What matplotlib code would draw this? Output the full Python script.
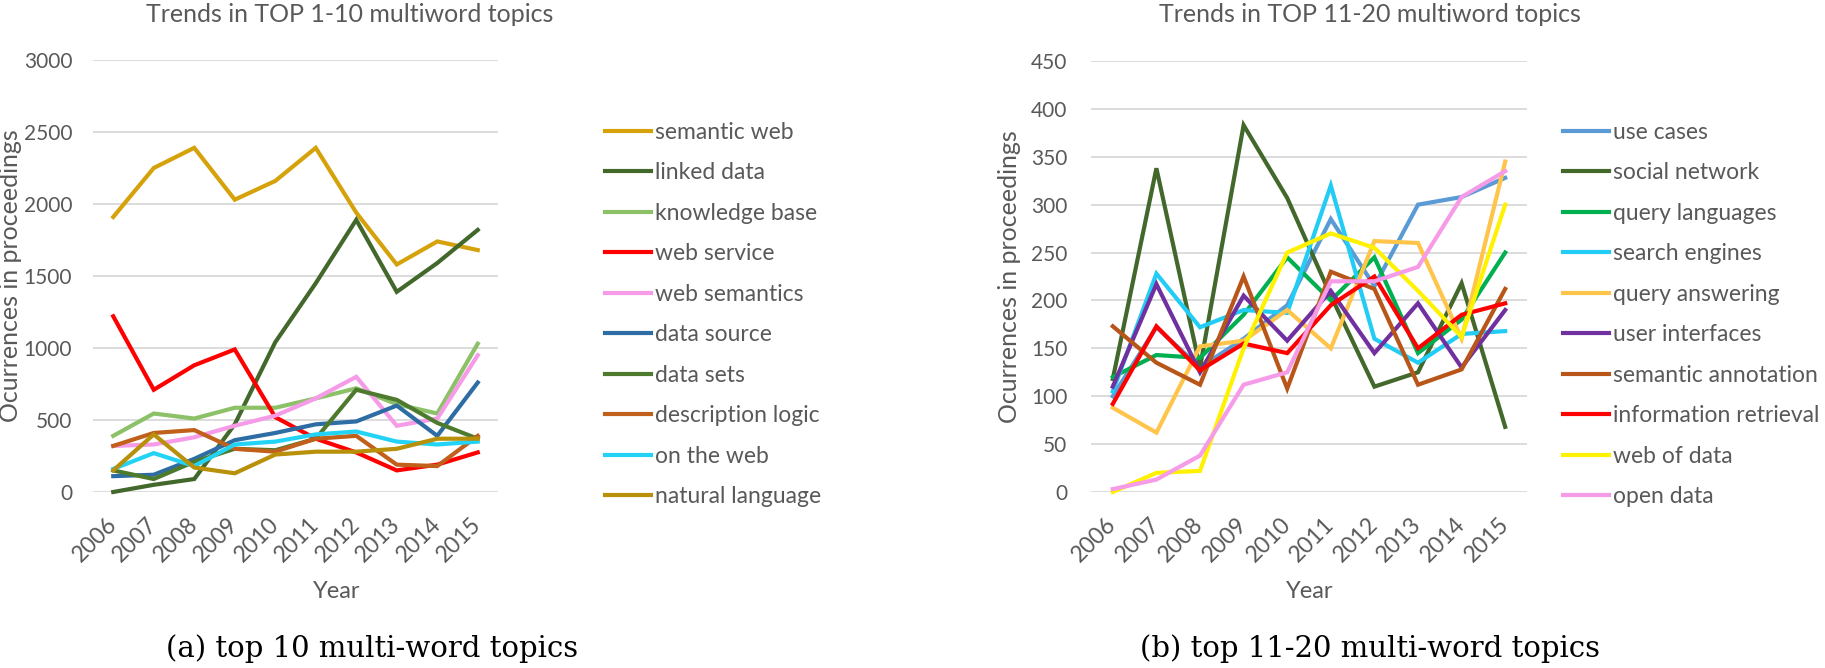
import matplotlib
matplotlib.use("Agg")
from matplotlib import pyplot as plt

years = [2006, 2007, 2008, 2009, 2010, 2011, 2012, 2013, 2014, 2015]

# TOP 1-10 multiword topics
semanticWeb = [1910, 2250, 2390, 2030, 2160, 2390, 1940, 1580, 1740, 1680]
linkedData = [0, 50, 90, 470, 1040, 1450, 1890, 1390, 1590, 1820]
knowledgeBase = [390, 545, 510, 585, 585, 650, 720, 610, 545, 1030]
webService = [1220, 710, 880, 990, 520, 370, 275, 150, 190, 275]
webSemantics = [320, 330, 380, 460, 530, 650, 800, 460, 510, 950]
dataSource = [110, 120, 230, 360, 410, 470, 490, 600, 390, 760]
dataSets = [150, 90, 210, 300, 290, 370, 710, 640, 480, 370]
descriptionLogic = [320, 410, 430, 300, 280, 370, 390, 190, 180, 390]
onTheWeb = [160, 270, 180, 330, 350, 400, 420, 350, 330, 350]
naturalLanguage = [150, 400, 170, 130, 260, 280, 280, 300, 370, 370]

top10Labels = ["semantic web", "linked data", "knowledge base", "web service",
               "web semantics", "data source", "data sets", "description logic",
               "on the web", "natural language"]
top10Series = [semanticWeb, linkedData, knowledgeBase, webService, webSemantics,
               dataSource, dataSets, descriptionLogic, onTheWeb, naturalLanguage]

# TOP 11-20 multiword topics
useCases = [100, 172, 130, 160, 195, 285, 215, 300, 308, 328]
socialNetwork = [118, 338, 130, 383, 307, 205, 110, 125, 218, 68]
queryLanguages = [120, 143, 140, 185, 245, 200, 245, 145, 180, 250]
searchEngines = [105, 228, 172, 190, 187, 320, 160, 135, 165, 168]
queryAnswering = [88, 62, 152, 158, 190, 150, 262, 260, 160, 345]
userInterfaces = [110, 217, 125, 205, 158, 210, 145, 197, 130, 190]
semanticAnnotation = [173, 135, 112, 225, 108, 230, 212, 112, 128, 212]
informationRetrieval = [92, 173, 127, 155, 145, 195, 225, 150, 185, 197]
webOfData = [0, 20, 22, 150, 250, 270, 255, 210, 162, 300]
openData = [3, 13, 38, 112, 125, 220, 220, 235, 308, 335]

top20Labels = ["use cases", "social network", "query languages", "search engines",
               "query answering", "user interfaces", "semantic annotation",
               "information retrieval", "web of data", "open data"]
top20Series = [useCases, socialNetwork, queryLanguages, searchEngines, queryAnswering,
               userInterfaces, semanticAnnotation, informationRetrieval, webOfData, openData]

top10Colors = ["#D6A20C", "#43682B", "#8CC168", "#FF0000", "#F59BE8",
               "#2E6DA4", "#4E7A2E", "#C0601A", "#22D3F5", "#B8900A"]
top20Colors = ["#5B9BD5", "#43682B", "#00B050", "#22CCF5", "#FFC54A",
               "#7030A0", "#B8561A", "#FF0000", "#FFF200", "#F59BE8"]

W, H = 1825, 668
GRAY = "#595959"
FONT = "Lato"

fig = plt.figure(figsize=(W / 100, H / 100), dpi=100)


def fx(x):
    return x / W


def fy(y):
    return 1 - y / H


def drawPanel(rect, series, labels, colors, ymax, ystep, ypad, title, titleX,
              ylabelX, yearX, caption, captionX, legendX):
    left, top, right, bottom = rect
    ax = fig.add_axes([fx(left), fy(bottom), fx(right - left), (bottom - top) / H])
    for values, label, color in zip(series, labels, colors):
        ax.plot(years, values, color=color, lw=3.0, label=label, clip_on=False,
                solid_joinstyle="miter")
    ax.set_xlim(2005.5, 2015.5)
    ax.set_ylim(0, ymax)
    ax.set_yticks(range(0, ymax + 1, ystep))
    ax.set_xticks(years)
    ax.set_xticklabels([str(y) for y in years], rotation=45, ha="right",
                       va="center", rotation_mode="anchor")
    ax.yaxis.grid(True, color="#D9D9D9", lw=1.3)
    ax.set_axisbelow(True)
    for s in ax.spines.values():
        s.set_visible(False)
    ax.tick_params(length=0, colors=GRAY)
    ax.tick_params(axis="y", pad=ypad, labelsize=15)
    ax.tick_params(axis="x", pad=21, labelsize=16.5)
    for t in ax.get_xticklabels() + ax.get_yticklabels():
        t.set_family(FONT)

    fig.text(fx(titleX), fy(15), title, ha="center", va="center",
             fontsize=18, color=GRAY, family=FONT)
    fig.text(fx(ylabelX), fy((top + bottom) / 2), "Ocurrences in proceedings",
             rotation=90, ha="center", va="center", fontsize=18, color=GRAY, family=FONT)
    fig.text(fx(yearX), fy(591), "Year", ha="center", va="center",
             fontsize=17, color=GRAY, family=FONT)
    fig.text(fx(captionX), fy(649), caption, ha="center", va="center",
             fontsize=21, color="black", family="DejaVu Serif")

    leg = ax.legend(loc="upper left", bbox_to_anchor=(fx(legendX), fy(122)),
                    bbox_transform=fig.transFigure, frameon=False,
                    handlelength=2.0, handletextpad=0.2, labelspacing=0.85,
                    borderaxespad=0, borderpad=0, prop={"family": FONT, "size": 16.5})
    for t in leg.get_texts():
        t.set_color(GRAY)
    return ax


drawPanel((93, 60, 498, 492), top10Series, top10Labels, top10Colors, 3000, 500, 15,
          "Trends in TOP 1-10 multiword topics", 350, 11, 337,
          "(a) top 10 multi-word topics", 372, 605)
drawPanel((1091, 61, 1527, 492), top20Series, top20Labels, top20Colors, 450, 50, 17,
          "Trends in TOP 11-20 multiword topics", 1370, 1010, 1310,
          "(b) top 11-20 multi-word topics", 1370, 1563)

fig.savefig("out.png", dpi=100)
